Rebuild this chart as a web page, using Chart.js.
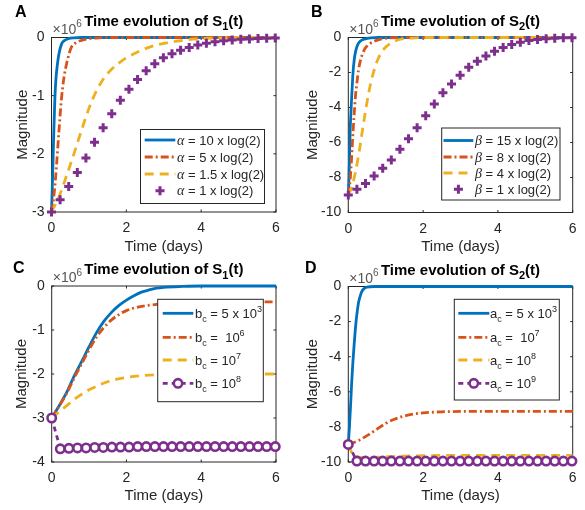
<!DOCTYPE html>
<html>
<head>
<meta charset="utf-8">
<script src="https://cdn.jsdelivr.net/npm/chart.js"></script>
<style>
  body { margin: 0; background: #fff; }
  #wrap { position: relative; width: 585px; height: 510px; overflow: hidden; }
  canvas { position: absolute; }
</style>
</head>
<body>
<div id="wrap">
  <canvas id="cA" width="292" height="258" style="left:0px;top:0px"></canvas>
  <canvas id="cB" width="293" height="258" style="left:292px;top:0px"></canvas>
  <canvas id="cC" width="292" height="258" style="left:0px;top:252px"></canvas>
  <canvas id="cD" width="293" height="258" style="left:292px;top:252px"></canvas>
</div>
<script>
// values are in units of 10^6 (the axes show "x10^6")
const xTicks = [0, 2, 4, 6];
// times of the marker series (+ and o)
const tMark = [0, 0.23, 0.46, 0.69, 0.92, 1.15, 1.38, 1.61, 1.84, 2.07, 2.30, 2.53, 2.76, 2.99,
  3.22, 3.45, 3.68, 3.91, 4.14, 4.37, 4.60, 4.83, 5.06, 5.29, 5.52, 5.75, 5.98];

// A - S1(t), varying alpha
const yTicksA = [-3, -2, -1, 0];
const labelsA = ['α = 10 x log(2)', 'α = 5 x log(2)', 'α = 1.5 x log(2)', 'α = 1 x log(2)'];
const tA1 = [0, 0.02, 0.04, 0.06, 0.09, 0.12, 0.16, 0.2, 0.27, 0.35, 0.45, 0.6, 0.8, 6];
const yA1 = [-3, -2.6, -2.15, -1.65, -1.05, -0.7, -0.45, -0.28, -0.11, -0.05, -0.02, -0.005, 0, 0];
const tA2 = [0, 0.05, 0.1, 0.15, 0.2, 0.27, 0.33, 0.4, 0.47, 0.53, 0.65, 0.8, 1.0, 1.2, 1.5, 6];
const yA2 = [-3, -2.8, -2.48, -2.06, -1.6, -1.03, -0.7, -0.46, -0.28, -0.17, -0.09, -0.05, -0.02, -0.01, 0, 0];
const tA3 = [0, 0.2, 0.4, 0.6, 0.8, 1.0, 1.2, 1.4, 1.6, 1.8, 2.0, 2.3, 2.6, 3.0, 3.5, 4, 5, 6];
const yA3 = [-3, -2.74, -2.38, -2.0, -1.6, -1.22, -0.92, -0.7, -0.55, -0.44, -0.35, -0.25, -0.17, -0.1, -0.05, -0.02, 0, 0];
const yA4 = [-3, -2.79, -2.56, -2.32, -2.07, -1.80, -1.55, -1.31, -1.08, -0.89, -0.72, -0.57, -0.45, -0.35,
  -0.28, -0.22, -0.17, -0.13, -0.10, -0.075, -0.057, -0.043, -0.032, -0.024, -0.018, -0.013, -0.01];

// B - S2(t), varying beta
const yTicksB = [-10, -8, -6, -4, -2, 0];
const labelsB = ['β = 15 x log(2)', 'β = 8 x log(2)', 'β = 4 x log(2)', 'β = 1 x log(2)'];
const tB1 = [0, 0.02, 0.035, 0.05, 0.07, 0.09, 0.11, 0.13, 0.16, 0.2, 0.25, 0.29, 0.35, 0.43, 0.6, 0.8, 6];
const yB1 = [-9, -7.9, -6.6, -5.3, -4.3, -3.4, -2.6, -1.9, -1.25, -0.75, -0.42, -0.28, -0.16, -0.09, -0.02, 0, 0];
const tB2 = [0, 0.04, 0.07, 0.1, 0.13, 0.16, 0.19, 0.23, 0.27, 0.32, 0.38, 0.45, 0.56, 0.67, 0.78, 1.0, 1.3, 6];
const yB2 = [-9, -8.4, -7.55, -6.4, -5.3, -4.3, -3.4, -2.6, -1.9, -1.35, -0.94, -0.62, -0.38, -0.24, -0.15, -0.05, -0.01, 0];
const tB3 = [0, 0.1, 0.2, 0.3, 0.4, 0.5, 0.6, 0.7, 0.8, 0.9, 1.0, 1.2, 1.4, 1.7, 2.0, 6];
const yB3 = [-9, -8.5, -7.6, -6.4, -5.0, -3.7, -2.6, -1.8, -1.2, -0.8, -0.55, -0.25, -0.1, -0.03, 0, 0];
const yB4 = [-9, -8.67, -8.34, -7.91, -7.47, -7.0, -6.38, -5.79, -5.15, -4.47, -3.8, -3.15, -2.65, -2.15,
  -1.70, -1.36, -1.05, -0.78, -0.57, -0.40, -0.27, -0.17, -0.11, -0.07, -0.04, -0.02, -0.01];

// C - S1(t), varying b_c
const yTicksC = [-4, -3, -2, -1, 0];
const labelsC = ['b_c = 5 x 10^3', 'b_c =  10^6', 'b_c = 10^7', 'b_c = 10^8'];
const tC1 = [0, 0.2, 0.4, 0.6, 0.8, 1.0, 1.2, 1.4, 1.6, 1.8, 2.0, 2.2, 2.4, 2.6, 2.8, 3.0, 3.5, 4, 6];
const yC1 = [-3, -2.72, -2.42, -2.05, -1.72, -1.38, -1.06, -0.8, -0.6, -0.44, -0.32, -0.22, -0.14, -0.09, -0.05, -0.03, -0.01, 0, 0];
const tC2 = [0, 0.2, 0.4, 0.6, 0.8, 1.0, 1.2, 1.4, 1.6, 1.8, 2.0, 2.2, 2.5, 2.8, 3.2, 3.6, 4, 5, 6];
const yC2 = [-3, -2.73, -2.44, -2.09, -1.77, -1.45, -1.16, -0.94, -0.77, -0.65, -0.56, -0.5, -0.45, -0.42, -0.39, -0.38, -0.37, -0.36, -0.36];
const tC3 = [0, 0.2, 0.4, 0.6, 0.8, 1.0, 1.3, 1.6, 2.0, 2.5, 3, 4, 5, 6];
const yC3 = [-3, -2.86, -2.72, -2.58, -2.46, -2.36, -2.24, -2.15, -2.08, -2.03, -2.01, -2.0, -2.0, -2.0];
const yC4 = [-3, -3.70, -3.69, -3.68, -3.68, -3.67, -3.67, -3.66, -3.66, -3.66, -3.65, -3.65, -3.65, -3.65,
  -3.65, -3.65, -3.65, -3.65, -3.65, -3.65, -3.65, -3.65, -3.65, -3.65, -3.65, -3.65, -3.65];

// D - S2(t), varying a_c
const yTicksD = [-10, -8, -6, -4, -2, 0];
const labelsD = ['a_c = 5 x 10^3', 'a_c =  10^7', 'a_c = 10^8', 'a_c = 10^9'];
const tD1 = [0, 0.03, 0.06, 0.09, 0.12, 0.15, 0.18, 0.21, 0.24, 0.27, 0.31, 0.36, 0.42, 0.5, 0.7, 6];
const yD1 = [-9, -8, -6.8, -5.5, -4.4, -3.5, -2.66, -1.95, -1.4, -0.95, -0.6, -0.29, -0.12, -0.04, 0, 0];
const tD2 = [0, 0.25, 0.5, 0.75, 1.0, 1.25, 1.5, 1.75, 2.0, 2.5, 3, 4, 5, 6];
const yD2 = [-9, -8.8, -8.5, -8.15, -7.8, -7.55, -7.38, -7.27, -7.2, -7.14, -7.12, -7.11, -7.11, -7.11];
const tD3 = [0, 0.1, 0.2, 0.5, 1.0, 1.5, 2, 3, 6];
const yD3 = [-9, -9.5, -9.68, -9.75, -9.7, -9.66, -9.64, -9.62, -9.62];
const yD4 = [-9, -9.95, -9.95, -9.95, -9.95, -9.95, -9.95, -9.95, -9.95, -9.95, -9.95, -9.95, -9.95, -9.95,
  -9.95, -9.95, -9.95, -9.95, -9.95, -9.95, -9.95, -9.95, -9.95, -9.95, -9.95, -9.95, -9.95];

Chart.defaults.font.family = "'Liberation Sans', Arial, sans-serif";
const AX = '#262626';
const SANS = "'Liberation Sans', Arial, sans-serif";

// line styles (matlab default colours)
const ST = {
  blue: { borderColor: '#0072BD', borderWidth: 2.8, borderDash: [], pointRadius: 0, cubicInterpolationMode: 'monotone' },
  red: { borderColor: '#D95319', borderWidth: 2.8, borderDash: [8, 3, 2, 3], pointRadius: 0, cubicInterpolationMode: 'monotone' },
  yellow: { borderColor: '#EDB120', borderWidth: 2.8, borderDash: [9, 6], pointRadius: 0, cubicInterpolationMode: 'monotone' },
  plus: { borderColor: '#7E2F8E', showLine: false, pointStyle: 'cross', pointRadius: 4.5, pointBorderWidth: 3, pointBorderColor: '#7E2F8E' },
  ring: { borderColor: '#7E2F8E', borderWidth: 2.8, borderDash: [5, 4], pointStyle: 'circle', pointRadius: 4.2,
    pointBorderWidth: 2.6, pointBackgroundColor: '#fff', pointBorderColor: '#7E2F8E' }
};

function series(ts, ys, style, i) {
  return Object.assign({
    data: ts.map((t, k) => ({ x: t, y: ys[k] })),
    fill: false, clip: false, order: 3 - i
  }, style);
}

// text with _x subscripts, ^x superscripts and greek letters
function parseRich(str) {
  const runs = [];
  for (let i = 0; i < str.length; i++) {
    let c = str[i], mode = 'n';
    if ((c === '_' || c === '^') && i + 1 < str.length) { mode = c === '_' ? 'sub' : 'sup'; c = str[++i]; }
    else if (c === 'α' || c === 'β') mode = 'greek';
    const last = runs[runs.length - 1];
    if (last && last.mode === mode) last.text += c; else runs.push({ text: c, mode });
  }
  return runs;
}
function runFont(mode, size, weight) {
  if (mode === 'sub' || mode === 'sup') return weight + ' ' + Math.round(size * 0.72) + 'px ' + SANS;
  if (mode === 'greek') return 'italic ' + (size + 1) + "px 'Liberation Serif', serif";
  return weight + ' ' + size + 'px ' + SANS;
}
function drawRich(ctx, str, x, y, size, weight, align, color) {
  const runs = parseRich(str);
  let w = 0;
  runs.forEach(r => { ctx.font = runFont(r.mode, size, weight); r.w = ctx.measureText(r.text).width; w += r.w; });
  let px = align === 'center' ? x - w / 2 : x;
  ctx.fillStyle = color; ctx.textAlign = 'left'; ctx.textBaseline = 'alphabetic';
  runs.forEach(r => {
    ctx.font = runFont(r.mode, size, weight);
    const dy = r.mode === 'sub' ? size * 0.32 : r.mode === 'sup' ? -size * 0.45 : 0;
    ctx.fillText(r.text, px, y + dy);
    px += r.w;
  });
}

// box with inward ticks on all four sides
const boxPlugin = {
  id: 'axbox',
  beforeDatasetsDraw(chart) {
    const { ctx, chartArea: a, scales: { x, y } } = chart;
    ctx.save();
    ctx.strokeStyle = AX; ctx.lineWidth = 1; ctx.setLineDash([]);
    ctx.strokeRect(a.left, a.top, a.right - a.left, a.bottom - a.top);
    ctx.beginPath();
    x.ticks.forEach(t => {
      const px = x.getPixelForValue(t.value);
      ctx.moveTo(px, a.bottom); ctx.lineTo(px, a.bottom - 2.5);
      ctx.moveTo(px, a.top); ctx.lineTo(px, a.top + 2.5);
    });
    y.ticks.forEach(t => {
      const py = y.getPixelForValue(t.value);
      ctx.moveTo(a.left, py); ctx.lineTo(a.left + 2.5, py);
      ctx.moveTo(a.right, py); ctx.lineTo(a.right - 2.5, py);
    });
    ctx.stroke();
    ctx.restore();
  }
};

function makePanel(p) {
  const cv = document.getElementById(p.id);
  const cx = parseFloat(cv.style.left), cy = parseFloat(cv.style.top);
  const W = cv.width, H = cv.height, g = p.geo;
  const half = 9; // half line height of the 15px axis titles
  const yW = g.L - (g.yTitleX - half);
  const xH = g.xTitleY + half - g.B;

  const decor = {
    id: 'decor',
    afterDraw(chart) {
      const ctx = chart.ctx, a = chart.chartArea;
      ctx.save();
      drawRich(ctx, p.letter, p.letterPos[0] - cx, p.letterPos[1] - cy, 16, 'bold', 'left', '#000');
      drawRich(ctx, p.title, (a.left + a.right) / 2, a.top - 12, 15, 'bold', 'center', '#000');
      drawRich(ctx, '×10^6', a.left + 1, a.top - 4, 14, 'normal', 'left', '#555');
      // legend
      const lg = p.legend;
      const [x1, y1, x2, y2] = lg.box;
      ctx.fillStyle = '#fff';
      ctx.fillRect(x1 - cx, y1 - cy, x2 - x1, y2 - y1);
      ctx.strokeStyle = AX; ctx.lineWidth = 1; ctx.setLineDash([]);
      ctx.strokeRect(x1 - cx, y1 - cy, x2 - x1, y2 - y1);
      lg.rows.forEach((ry, i) => {
        const ds = chart.data.datasets[i];
        const y = ry - cy, la = lg.line[0] - cx, lb = lg.line[1] - cx;
        if (ds.showLine !== false) {
          ctx.strokeStyle = ds.borderColor; ctx.lineWidth = ds.borderWidth;
          ctx.setLineDash(ds.borderDash || []);
          ctx.beginPath(); ctx.moveTo(la, y); ctx.lineTo(lb, y); ctx.stroke();
        }
        if (ds.pointRadius) {
          ctx.setLineDash([]);
          ctx.fillStyle = ds.pointBackgroundColor || ds.borderColor;
          ctx.strokeStyle = ds.pointBorderColor; ctx.lineWidth = ds.pointBorderWidth;
          Chart.helpers.drawPoint(ctx, { pointStyle: ds.pointStyle, rotation: 0, radius: ds.pointRadius,
            borderWidth: ds.pointBorderWidth }, (la + lb) / 2, y);
        }
        drawRich(ctx, p.labels[i], lg.textX - cx, y + 4.5, 13, 'normal', 'left', AX);
      });
      ctx.restore();
    }
  };

  return new Chart(cv, {
    type: 'line',
    data: { datasets: p.datasets },
    options: {
      responsive: false,
      animation: false,
      events: [],
      layout: { padding: { left: g.yTitleX - half - cx, top: g.T - cy, right: cx + W - g.R, bottom: cy + H - (g.xTitleY + half) } },
      plugins: { legend: { display: false }, tooltip: { enabled: false } },
      scales: {
        x: {
          type: 'linear', min: 0, max: 6,
          afterBuildTicks: s => { s.ticks = xTicks.map(v => ({ value: v })); },
          afterFit: s => { s.height = xH; },
          grid: { display: false, drawTicks: false },
          border: { display: false },
          ticks: { font: { size: 14 }, color: AX, padding: 8, maxRotation: 0, callback: v => String(v) },
          title: { display: true, text: 'Time (days)', font: { size: 15 }, color: AX, padding: 0 }
        },
        y: {
          type: 'linear', min: p.yTicks[0], max: p.yTicks[p.yTicks.length - 1],
          afterBuildTicks: s => { s.ticks = p.yTicks.map(v => ({ value: v })); },
          afterFit: s => { s.width = yW; },
          grid: { display: false, drawTicks: false },
          border: { display: false },
          ticks: { font: { size: 14 }, color: AX, padding: 7, callback: v => String(v) },
          title: { display: true, text: 'Magnitude', font: { size: 15 }, color: AX, padding: 0 }
        }
      }
    },
    plugins: [boxPlugin, decor]
  });
}

makePanel({
  id: 'cA', letter: 'A', letterPos: [15, 17], title: 'Time evolution of S_1(t)',
  geo: { L: 51.5, T: 37.5, R: 276, B: 212, yTitleX: 22.5, xTitleY: 246.5 },
  yTicks: yTicksA, labels: labelsA,
  legend: { box: [140.5, 129.5, 264.5, 203.5], rows: [140, 157, 174, 190.7], line: [144.7, 175.3], textX: 177 },
  datasets: [series(tA1, yA1, ST.blue, 0), series(tA2, yA2, ST.red, 1), series(tA3, yA3, ST.yellow, 2), series(tMark, yA4, ST.plus, 3)]
});
makePanel({
  id: 'cB', letter: 'B', letterPos: [311, 17], title: 'Time evolution of S_2(t)',
  geo: { L: 348.3, T: 37.5, R: 572.7, B: 212.5, yTitleX: 312.5, xTitleY: 246.5 },
  yTicks: yTicksB, labels: labelsB,
  legend: { box: [441.7, 128, 560, 200], rows: [140.5, 157, 173, 189.3], line: [443.5, 473.3], textX: 475 },
  datasets: [series(tB1, yB1, ST.blue, 0), series(tB2, yB2, ST.red, 1), series(tB3, yB3, ST.yellow, 2), series(tMark, yB4, ST.plus, 3)]
});
makePanel({
  id: 'cC', letter: 'C', letterPos: [13, 273], title: 'Time evolution of S_1(t)',
  geo: { L: 51.7, T: 286, R: 276, B: 462, yTitleX: 22, xTitleY: 496 },
  yTicks: yTicksC, labels: labelsC,
  legend: { box: [157.7, 299.3, 263.3, 401.7], rows: [313.3, 337.3, 360, 383.3], line: [162.7, 193.3], textX: 195 },
  datasets: [series(tC1, yC1, ST.blue, 0), series(tC2, yC2, ST.red, 1), series(tC3, yC3, ST.yellow, 2), series(tMark, yC4, ST.ring, 3)]
});
makePanel({
  id: 'cD', letter: 'D', letterPos: [305, 273], title: 'Time evolution of S_2(t)',
  geo: { L: 348.3, T: 286.5, R: 572.7, B: 462, yTitleX: 312.5, xTitleY: 496 },
  yTicks: yTicksD, labels: labelsD,
  legend: { box: [454.3, 299.3, 559.3, 400], rows: [313.3, 337.3, 360, 383.3], line: [458.3, 489.3], textX: 490 },
  datasets: [series(tD1, yD1, ST.blue, 0), series(tD2, yD2, ST.red, 1), series(tD3, yD3, ST.yellow, 2), series(tMark, yD4, ST.ring, 3)]
});
</script>
</body>
</html>
